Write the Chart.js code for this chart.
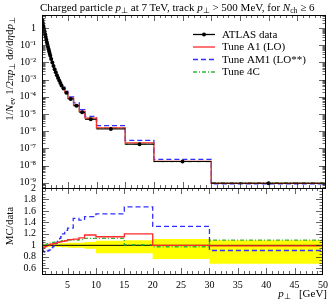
<!DOCTYPE html>
<html>
<head>
<meta charset="utf-8">
<script src="https://cdn.jsdelivr.net/npm/chart.js@4"></script>
<style>
body{margin:0;background:#fff;}
#wrap{position:relative;width:333px;height:301px;overflow:hidden;font-family:"Liberation Serif",serif;color:#000;}
canvas{position:absolute;left:0;top:0;}
.t{position:absolute;white-space:nowrap;line-height:1;}
sub{font-size:70%;vertical-align:-0.3em;line-height:0;}
</style>
</head>
<body>
<div id="wrap">
<canvas id="topChart" width="333" height="301"></canvas>
<canvas id="ratioChart" width="333" height="301"></canvas>
<div class="t" style="left:40px;top:2px;font-size:11px">Charged particle <i>p</i><sub>⊥</sub> at 7 TeV, track <i>p</i><sub>⊥</sub> &gt; 500 MeV, for <i>N</i><sub>ch</sub> ≥ 6</div>
<div style="position:absolute;left:9px;top:17px;width:0;height:0">
  <div class="t" style="left:0;top:0;font-size:11px;transform-origin:0 0;transform:rotate(-90deg) translate(-100%,-50%)">1/<i>N</i><sub>ev</sub> 1/2π<i>p</i><sub>⊥</sub> d<i>σ</i>/d<i>η</i>d<i>p</i><sub>⊥</sub></div>
</div>
<div style="position:absolute;left:9px;top:226px;width:0;height:0">
  <div class="t" style="left:0;top:0;font-size:11px;transform-origin:0 0;transform:rotate(-90deg) translate(-50%,-50%)">MC/data</div>
</div>
<div class="t" style="right:6px;top:288px;font-size:11px"><i>p</i><sub>⊥</sub> &nbsp;&nbsp;[GeV]</div>
</div>
<script>
// bin edges in pT [GeV]
const xEdges = [0.5,0.6,0.7,0.8,0.9,1.0,1.1,1.2,1.3,1.4,1.5,1.6,1.7,1.8,1.9,2.0,2.2,2.4,2.6,2.8,3.0,3.2,3.4,3.6,3.8,4.0,4.5,5.0,6.0,7.0,8.0,10,15,20,30,50];

// ATLAS data, one value per bin
const dataVals = [2.9,1.95,1.32,0.90,0.62,0.43,0.30,0.21,0.15,0.108,0.079,0.058,0.043,0.032,0.024,0.016,0.0098,0.0062,0.0040,0.0027,0.0018,0.00125,0.00088,0.00063,0.00046,0.00030,0.00017,7.5e-5,3.0e-5,1.25e-5,4.9e-6,1.35e-6,1.75e-7,1.75e-8,9.5e-10];

// MC/data
const ratioA1 = [1.01,0.97,0.96,0.96,0.97,0.97,0.98,0.98,0.99,0.99,1.00,1.00,1.01,1.01,1.01,1.02,1.02,1.03,1.03,1.04,1.04,1.05,1.05,1.06,1.06,1.07,1.08,1.10,1.11,1.13,1.18,1.15,1.20,1.00,0.99];
const ratioAM1 = [1.05,0.94,0.90,0.89,0.88,0.88,0.88,0.89,0.89,0.90,0.90,0.91,0.91,0.92,0.92,0.94,0.96,0.98,1.00,1.02,1.04,1.07,1.09,1.12,1.15,1.20,1.26,1.30,1.47,1.44,1.50,1.55,1.67,1.33,0.91];
const ratio4C = [1.09,1.03,1.01,1.00,1.00,1.01,1.01,1.02,1.02,1.02,1.03,1.03,1.03,1.04,1.04,1.04,1.05,1.05,1.05,1.06,1.06,1.06,1.07,1.07,1.07,1.08,1.08,1.09,1.09,1.10,1.12,1.12,1.01,0.975,1.09];

// data uncertainty band (relative)
const bandLow = [0.975,0.975,0.975,0.975,0.975,0.975,0.975,0.975,0.975,0.975,0.975,0.975,0.975,0.975,0.975,0.97,0.97,0.97,0.97,0.97,0.97,0.97,0.97,0.97,0.97,0.965,0.965,0.96,0.96,0.96,0.94,0.86,0.86,0.76,0.68];
const bandHigh = [1.025,1.025,1.025,1.025,1.025,1.025,1.025,1.025,1.025,1.025,1.025,1.025,1.025,1.025,1.025,1.03,1.03,1.03,1.03,1.03,1.03,1.03,1.03,1.03,1.03,1.035,1.035,1.045,1.045,1.045,1.06,1.08,1.09,1.11,1.09];

// tick labels
const xTickValues = [5,10,15,20,25,30,35,40,45,50];
const xTickLabels = ['5','10','15','20','25','30','35','40','45','50'];
const yTickValues = [1,1e-1,1e-2,1e-3,1e-4,1e-5,1e-6,1e-7,1e-8,1e-9];
const yTickLabels = ['1','10⁻¹','10⁻²','10⁻³','10⁻⁴','10⁻⁵','10⁻⁶','10⁻⁷','10⁻⁸','10⁻⁹'];
const rTickValues = [0.6,0.8,1,1.2,1.4,1.6,1.8,2];
const rTickLabels = ['0.6','0.8','1','1.2','1.4','1.6','1.8','2'];

const serif = '"Liberation Serif", serif';
const cRed = '#ff2a2a', cBlue = '#3030ff', cGreen = '#33b833';

function steps(vals){
  const pts = vals.map((v,i)=>({x:xEdges[i], y:v}));
  pts.push({x:xEdges[xEdges.length-1], y:vals[vals.length-1]});
  return pts;
}

const dataPoints = dataVals.map((v,i)=>({x:(xEdges[i]+xEdges[i+1])/2, y:v}));
const dataBars = [];
dataVals.forEach((v,i)=>{
  dataBars.push({x:xEdges[i],y:v},{x:xEdges[i+1],y:v},{x:xEdges[i+1],y:null});
});
const mcA1 = dataVals.map((d,i)=>d*ratioA1[i]);
const mcAM1 = dataVals.map((d,i)=>d*ratioAM1[i]);
const mc4C = dataVals.map((d,i)=>d*ratio4C[i]);

// frame with inward ticks on all four sides
const frameTicks = {
  id:'frameTicks',
  afterDatasetsDraw(chart, args, opts){
    const {ctx, chartArea:a, scales} = chart;
    const sx = scales.x, sy = scales.y;
    ctx.save();
    ctx.strokeStyle = '#222';
    ctx.lineWidth = 0.7;
    ctx.beginPath();
    for(let v=1; v<=49; v++){
      const px = Math.round(sx.getPixelForValue(v))+0.5;
      const L = v%5===0 ? 6 : 3;
      ctx.moveTo(px,a.bottom); ctx.lineTo(px,a.bottom-L);
      ctx.moveTo(px,a.top); ctx.lineTo(px,a.top+L);
    }
    opts.yMajor.forEach(v=>{
      const py = Math.round(sy.getPixelForValue(v))+0.5;
      ctx.moveTo(a.left,py); ctx.lineTo(a.left+7,py);
      ctx.moveTo(a.right,py); ctx.lineTo(a.right-7,py);
    });
    opts.yMinor.forEach(v=>{
      const py = Math.round(sy.getPixelForValue(v))+0.5;
      ctx.moveTo(a.left,py); ctx.lineTo(a.left+3.5,py);
      ctx.moveTo(a.right,py); ctx.lineTo(a.right-3.5,py);
    });
    ctx.stroke();
    ctx.strokeStyle = '#000';
    ctx.lineWidth = 1;
    ctx.strokeRect(a.left+0.5, a.top+0.5, a.right-a.left-1, a.bottom-a.top);
    ctx.restore();
  }
};

const legendEntries = [
  {label:'ATLAS data', color:'#000', dash:[], dot:true},
  {label:'Tune A1 (LO)', color:cRed, dash:[]},
  {label:'Tune AM1 (LO**)', color:cBlue, dash:[5,3]},
  {label:'Tune 4C', color:cGreen, dash:[4,2,1,2]}
];
const legendPlugin = {
  id:'legendBox',
  afterDraw(chart){
    const ctx = chart.ctx;
    ctx.save();
    legendEntries.forEach((e,i)=>{
      const y = 34.5 + i*12.5;
      ctx.strokeStyle = e.color;
      ctx.lineWidth = 1.3;
      ctx.setLineDash(e.dash);
      ctx.beginPath(); ctx.moveTo(193,y); ctx.lineTo(215,y); ctx.stroke();
      if(e.dot){
        ctx.fillStyle = '#000';
        ctx.beginPath(); ctx.arc(204,y,2,0,Math.PI*2); ctx.fill();
      }
      ctx.setLineDash([]);
      ctx.fillStyle = '#000';
      ctx.font = '11px ' + serif;
      ctx.textBaseline = 'middle';
      ctx.fillText(e.label, 222, y+0.5);
    });
    ctx.restore();
  }
};

const yMajorTop = [], yMinorTop = [];
for(let n=-10; n<=0; n++){
  const d = Math.pow(10,n);
  if(d>=5e-10) yMajorTop.push(d);
  for(let k=2; k<=9; k++){ const v=k*d; if(v>=5e-10 && v<=5.7) yMinorTop.push(v); }
}
const yMajorR = [], yMinorR = [];
for(let k=10; k<=40; k++){
  const v = k*0.05;
  if(k%4===0 && k>=12) yMajorR.push(v); else yMinorR.push(v);
}

function line(data, color, dash, width){
  return {data, borderColor:color, borderDash:dash, borderWidth:width||1.3, pointRadius:0, stepped:true, fill:false};
}

new Chart(document.getElementById('topChart'), {
  type:'line',
  data:{datasets:[
    {data:dataPoints, showLine:false, pointRadius:2, pointBackgroundColor:'#000', pointBorderWidth:0, borderColor:'#000'},
    {data:dataBars, borderColor:'#000', borderWidth:1, pointRadius:0, spanGaps:false},
    line(steps(mcA1), cRed, []),
    line(steps(mcAM1), cBlue, [5,3]),
    line(steps(mc4C), cGreen, [4,2,1,2])
  ]},
  options:{
    responsive:false, animation:false, devicePixelRatio:1,
    layout:{padding:{top:15,right:7,bottom:113,left:0}},
    plugins:{legend:{display:false}, tooltip:{enabled:false}, frameTicks:{yMajor:yMajorTop, yMinor:yMinorTop}},
    scales:{
      x:{type:'linear', min:0.5, max:50, display:false},
      y:{type:'logarithmic', min:5e-10, max:5.7,
         afterFit(s){ s.width = 42; },
         afterBuildTicks(s){ s.ticks = yTickValues.map(v=>({value:v})); },
         ticks:{callback:(v,i)=>yTickLabels[i], font:{family:serif,size:10}, color:'#000', padding:6, autoSkip:false},
         grid:{display:false, drawTicks:false}, border:{display:false}}
    }
  },
  plugins:[frameTicks, legendPlugin]
});

new Chart(document.getElementById('ratioChart'), {
  type:'line',
  data:{datasets:[
    line(steps(ratioA1), cRed, []),
    line(steps(ratioAM1), cBlue, [5,3]),
    line(steps(ratio4C), cGreen, [4,2,1,2]),
    {data:[{x:0.5,y:1},{x:50,y:1}], borderColor:'#000', borderWidth:1, pointRadius:0},
    {data:steps(bandHigh), stepped:true, pointRadius:0, borderColor:'rgba(0,0,0,0)', backgroundColor:'#ffff00', fill:'+1'},
    {data:steps(bandLow), stepped:true, pointRadius:0, borderColor:'rgba(0,0,0,0)', fill:false}
  ]},
  options:{
    responsive:false, animation:false, devicePixelRatio:1,
    layout:{padding:{top:188,right:7,bottom:0,left:0}},
    plugins:{legend:{display:false}, tooltip:{enabled:false}, frameTicks:{yMajor:yMajorR, yMinor:yMinorR}},
    scales:{
      x:{type:'linear', min:0.5, max:50,
         afterFit(s){ s.height = 27; },
         afterBuildTicks(s){ s.ticks = xTickValues.map(v=>({value:v})); },
         ticks:{callback:(v,i)=>xTickLabels[i], font:{family:serif,size:10}, color:'#000', padding:5, maxRotation:0, autoSkip:false},
         grid:{display:false, drawTicks:false}, border:{display:false}},
      y:{type:'linear', min:0.5, max:2,
         afterFit(s){ s.width = 42; },
         afterBuildTicks(s){ s.ticks = rTickValues.map(v=>({value:v})); },
         ticks:{callback:(v,i)=>rTickLabels[i], font:{family:serif,size:10}, color:'#000', padding:6, autoSkip:false},
         grid:{display:false, drawTicks:false}, border:{display:false}}
    }
  },
  plugins:[frameTicks]
});
</script>
</body>
</html>
